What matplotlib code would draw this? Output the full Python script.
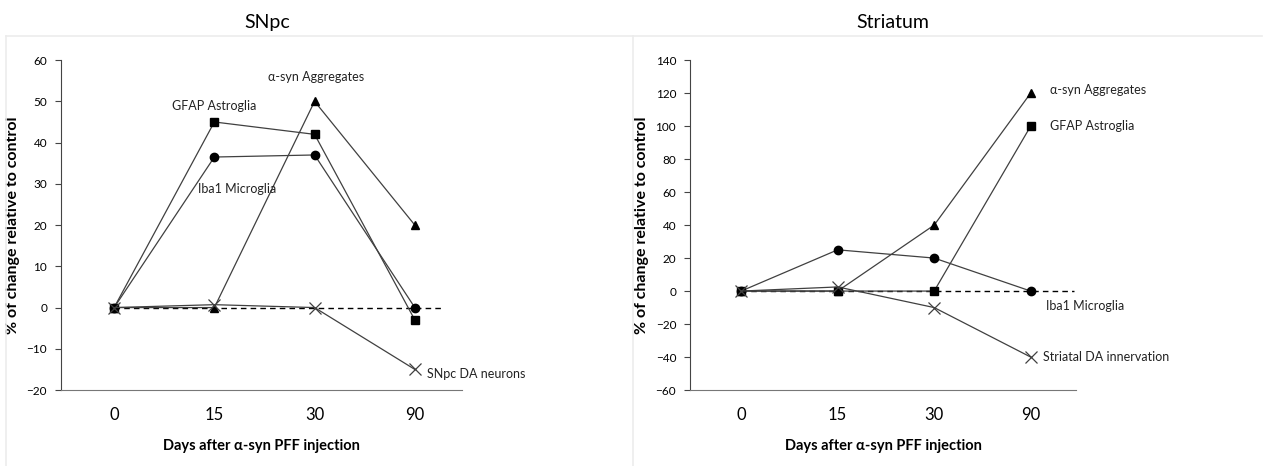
import matplotlib.pyplot as plt
from matplotlib.lines import Line2D

plt.rcParams['font.family'] = ['Lato', 'DejaVu Sans']

# ================= DATA =================
days = ["0", "15", "30", "90"]

# SNpc
snpc_gfap = [0, 45, 42, -3]
snpc_iba1 = [0, 36.5, 37, 0]
snpc_asyn = [0, 0, 50, 20]
snpc_da = [0, 0.7, 0, -15]

# Striatum
str_asyn = [0, 0, 40, 120]
str_gfap = [0, 0, 0, 100]
str_iba1 = [0, 25, 20, 0]
str_da = [0, 2.5, -10, -40]

x = list(range(len(days)))

# ================= FIGURE =================
fig = plt.figure(figsize=(12.68, 4.66), dpi=100)

# faint panel frames
frame_col = "#ececec"
fig.add_artist(Line2D([0.005, 0.995], [0.922, 0.922], color=frame_col, lw=1.2))
fig.add_artist(Line2D([0.005, 0.005], [0.0, 0.922], color=frame_col, lw=1.2))
fig.add_artist(Line2D([0.4995, 0.4995], [0.0, 0.922], color=frame_col, lw=1.2))

ax1 = fig.add_axes([0.0481, 0.163, 0.3162, 0.708])
ax2 = fig.add_axes([0.5442, 0.163, 0.3044, 0.708])

fig.text(0.211, 0.952, "SNpc", ha="center", va="center", fontsize=14)
fig.text(0.704, 0.952, "Striatum", ha="center", va="center", fontsize=14)

line_kw = dict(color="#404040", lw=0.9, markersize=6,
               markerfacecolor="black", markeredgecolor="black")


def style_axis(ax, ylim, step, ylab_x):
    ax.set_xlim(-0.53, 3.47)
    ax.set_ylim(*ylim)
    ax.set_yticks(range(ylim[0], ylim[1] + 1, step))
    ax.set_xticks(x)
    ax.set_xticklabels(days, fontsize=12)
    ax.tick_params(axis="x", length=0, pad=12)
    ax.tick_params(axis="y", length=4, direction="out", labelsize=8.5,
                   color="#444444", width=0.8, pad=6)
    for s in ["top", "right"]:
        ax.spines[s].set_visible(False)
    ax.spines["left"].set_color("#444444")
    ax.spines["bottom"].set_color("#777777")
    ax.set_xlabel("Days after α-syn PFF injection", fontsize=10.5,
                  fontweight="bold", labelpad=12)
    ax.set_ylabel("% of change relative to control", fontsize=11.5,
                  fontweight="bold")
    ax.yaxis.set_label_coords(ylab_x, 0.5)
    ax.set_facecolor("none")


# ================= SNpc =================
style_axis(ax1, (-20, 60), 10, -0.102)
ax1.plot([0, 3.29], [0, 0], ls=(0, (4, 3)), color="black", lw=1.0)
ax1.plot(x, snpc_asyn, marker="^", **line_kw)
ax1.plot(x, snpc_gfap, marker="s", **line_kw)
ax1.plot(x, snpc_iba1, marker="o", **line_kw)
ax1.plot(x, snpc_da, marker="x", color="#404040", lw=0.9, markersize=8,
         markeredgewidth=0.9)

lab_kw = dict(fontsize=9, color="#222222", va="center")
ax1.text(2.01, 56, "α-syn Aggregates", ha="center", **lab_kw)
ax1.text(1.0, 48.8, "GFAP Astroglia", ha="center", **lab_kw)
ax1.text(1.23, 28.7, "Iba1 Microglia", ha="center", **lab_kw)
ax1.text(3.12, -16, "SNpc DA neurons", ha="left", **lab_kw)

# ================= Striatum =================
style_axis(ax2, (-60, 140), 20, -0.106)
ax2.plot([0, 3.45], [0, 0], ls=(0, (4, 3)), color="black", lw=1.0)
ax2.plot(x, str_asyn, marker="^", **line_kw)
ax2.plot(x, str_gfap, marker="s", **line_kw)
ax2.plot(x, str_iba1, marker="o", **line_kw)
ax2.plot(x, str_da, marker="x", color="#404040", lw=0.9, markersize=8,
         markeredgewidth=0.9)

ax2.text(3.2, 121.8, "α-syn Aggregates", ha="left", **lab_kw)
ax2.text(3.2, 100, "GFAP Astroglia", ha="left", **lab_kw)
ax2.text(3.16, -9.1, "Iba1 Microglia", ha="left", **lab_kw)
ax2.text(3.13, -40, "Striatal DA innervation", ha="left", **lab_kw)

fig.savefig("out.png", dpi=100)
